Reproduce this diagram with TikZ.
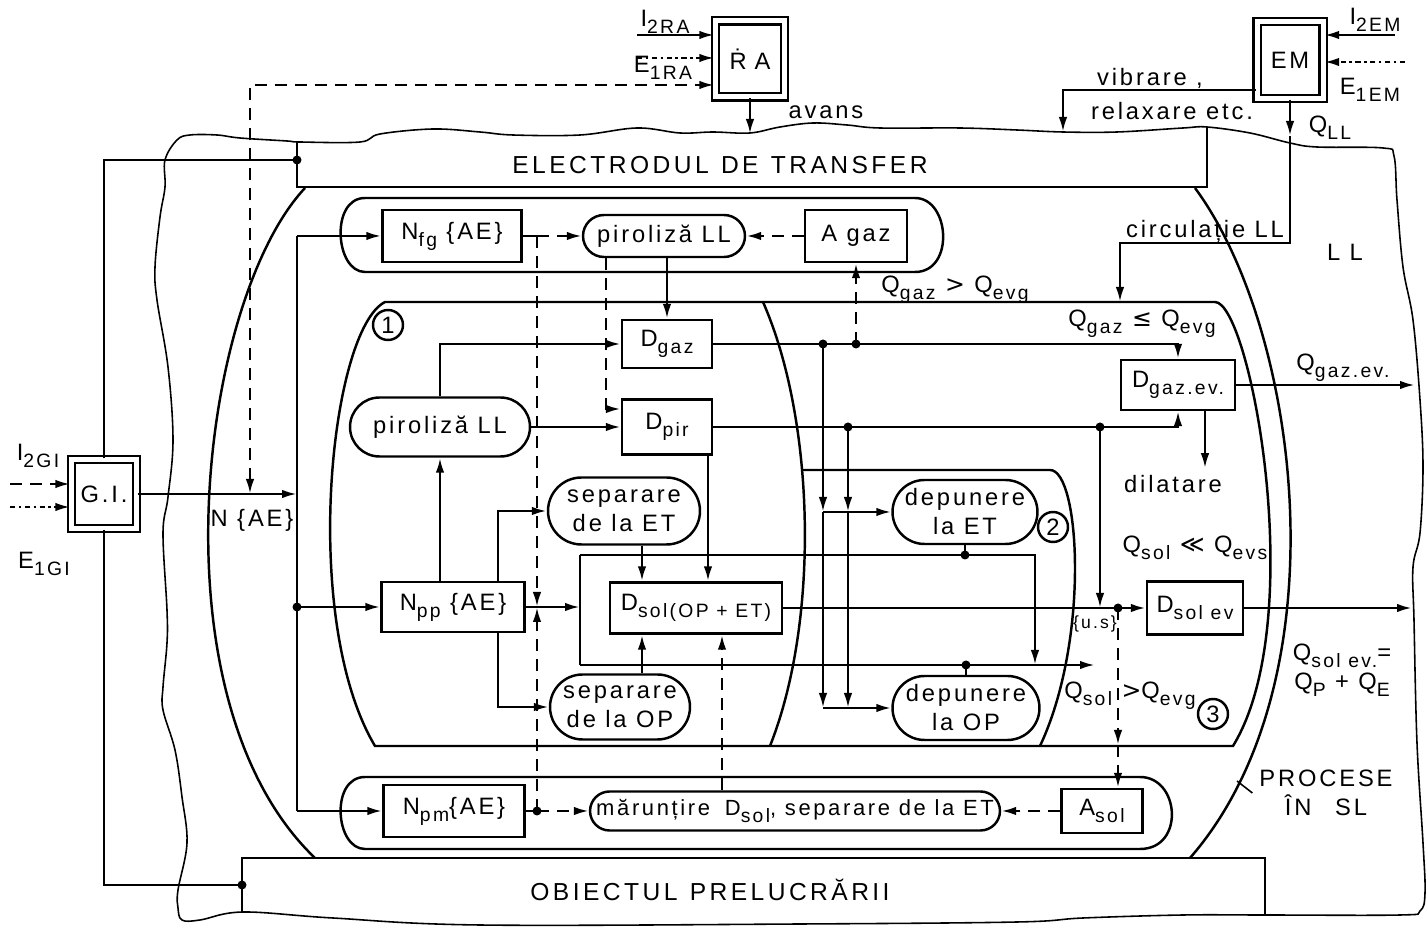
\documentclass[tikz,border=0pt]{standalone}
\usepackage{fontspec}
\setmainfont{Liberation Sans}[LetterSpace=12]
\newfontfamily\widefont[LetterSpace=14]{Liberation Sans}
\newfontfamily\symfont{DejaVu Sans}
\usetikzlibrary{arrows.meta,shapes.misc,calc}
\newcommand{\ix}[1]{\raisebox{-0.55ex}{\fontsize{11}{12}\selectfont #1}}

\begin{document}
\begin{tikzpicture}[x=0.02cm, y=-0.02cm, line width=1.4pt,
  font=\fontsize{13.5}{16.5}\selectfont,
  box/.style={draw, rectangle, inner sep=0pt},
  pill/.style={draw, rounded rectangle, inner sep=0pt, align=center},
  dbox/.style={draw, double, double distance=0.1cm, inner sep=0pt},
  numc/.style={draw, circle, inner sep=0pt, minimum size=0.6cm},
  arr/.style={-{Latex[length=0.3cm,width=0.17cm]}},
  arrs/.style={{Latex[length=0.3cm,width=0.17cm]}-{Latex[length=0.3cm,width=0.17cm]}},
  dsh/.style={dash pattern=on 0.24cm off 0.16cm},
  thinl/.style={line width=0.9pt}]
  \useasboundingbox (0,0) rectangle (1428,928);

  % wavy outline of the working liquid (LL)
  \draw[thinl] plot[smooth cycle, tension=0.6] coordinates {(165,160) (177,140) (190,135)
    (217,135) (240,138) (287,141) (300,142) (360,142) (380,134) (433,129) (480,132)
    (513,135) (580,135) (637,128) (680,133) (713,132) (750,133) (780,127) (813,123)
    (847,125) (880,128) (960,128) (1017,130) (1063,132) (1117,132) (1183,128) (1207,127)
    (1250,133) (1290,143) (1317,147) (1383,148) (1394,156) (1397,200) (1403,267)
    (1413,320) (1420,400) (1423,467) (1420,533) (1413,567) (1414,620) (1417,743)
    (1423,843) (1425,893) (1420,911) (1400,915) (1265,915) (1183,915) (1083,918)
    (1017,922) (800,924) (480,925) (333,918) (243,912) (200,920) (182,920) (178,908)
    (178,890) (187,843) (182,797) (175,750) (163,710) (163,687) (167,643) (167,610)
    (163,533) (168,497) (173,440) (168,367) (157,300) (155,267) (160,217) (165,187)};

  % electrode and workpiece
  \draw (297,142) -- (297,187) -- (1207,187) -- (1207,127);
  \draw (242,912) -- (242,858) -- (1265,858) -- (1265,915);
  \node (etl) at (720,165) {\widefont\fontsize{14}{16}\selectfont ELECTRODUL\enspace DE\enspace TRANSFER};
  \node (opl) at (710,890) {\widefont\fontsize{14}{16}\selectfont OBIECTUL\enspace PRELUCRĂRII};

  % SL lens
  \draw (305,188) .. controls (200,300) and (150,700) .. (315,858);
  \draw (1195,188) .. controls (1300,330) and (1345,680) .. (1190,858);

  % gas and solid bands
  \draw (365,198) -- (915,198) .. controls (950,198) and (955,272) .. (915,272)
    -- (365,272) .. controls (335,272) and (330,198) .. (365,198);
  \draw (365,777) -- (1140,777) .. controls (1180,777) and (1185,849) .. (1140,849)
    -- (365,849) .. controls (335,849) and (330,777) .. (365,777);

  % zones 1, 2, 3
  \draw (375,746) .. controls (300,620) and (330,330) .. (385,302) -- (1215,302)
    .. controls (1250,302) and (1310,620) .. (1233,746) -- cycle;
  \draw (763,302) .. controls (815,420) and (820,620) .. (770,746);
  \draw (803,470) -- (1050,470) .. controls (1080,470) and (1090,640) .. (1040,746);
  \node[numc] (c1) at (388,325) {1};
  \node[numc] (c2) at (1053,527) {2};
  \node[numc] (c3) at (1213,714) {3};

  % sources
  \node[dbox, minimum width=1.38cm, minimum height=1.52cm] (ra) at (750,59) {\.{R}\,\,A};
  \node[dbox, minimum width=1.32cm, minimum height=1.54cm] (em) at (1290,60) {EM};
  \node[dbox, minimum width=1.3cm, minimum height=1.38cm] (gi) at (104,494) {G.I.};

  % blocks
  \node[box, minimum width=2.78cm, minimum height=1.04cm] (nfg) at (452,236) {N\ix{fg} \{AE\}};
  \node[pill, minimum width=3.24cm, minimum height=0.84cm] (pirtop) at (664,236) {piroliză LL};
  \node[box, minimum width=2.04cm, minimum height=1.04cm] (agaz) at (856,236) {A gaz};
  \node[box, minimum width=1.8cm, minimum height=0.96cm] (dgaz) at (667,344) {D\ix{gaz}};
  \node[box, minimum width=1.8cm, minimum height=1.1cm] (dpir) at (667,427) {D\ix{pir}};
  \node[pill, minimum width=3.6cm, minimum height=1.18cm] (pirl) at (440,427) {piroliză LL};
  \node[pill, minimum width=3.04cm, minimum height=1.34cm] (sepet) at (624,511) {separare\\de la ET};
  \node[pill, minimum width=2.8cm, minimum height=1.3cm] (sepop) at (620,707) {separare\\de la OP};
  \node[box, minimum width=2.86cm, minimum height=1.0cm] (npp) at (453,607) {N\ix{pp} \{AE\}};
  \node[box, minimum width=3.44cm, minimum height=1.02cm] (dsol) at (696,608) {D\ix{sol(OP + ET)}};
  \node[pill, minimum width=2.9cm, minimum height=1.28cm] (depet) at (965,512) {depunere\\la ET};
  \node[pill, minimum width=2.94cm, minimum height=1.28cm] (depop) at (966,708) {depunere\\la OP};
  \node[box, minimum width=2.28cm, minimum height=1.0cm] (dgazev) at (1178,385) {D\ix{gaz.ev.}};
  \node[box, minimum width=1.92cm, minimum height=1.06cm] (dsolev) at (1195,608) {D\ix{sol ev}};
  \node[box, minimum width=2.82cm, minimum height=1.04cm] (npm) at (454,811) {N\ix{pm}\{AE\}};
  \node[pill, minimum width=8.2cm, minimum height=0.78cm, font=\fontsize{12.5}{14}\selectfont] (marunt) at (795,811) {mărunțire\; D\ix{sol}, separare de la ET};
  \node[box, minimum width=1.62cm, minimum height=0.88cm] (asol) at (1102,811) {A\ix{sol}};

  % labels
  \node (avans) at (826,112) {avans};
  \node (vibr) at (1150,78) {vibrare ,};
  \node (relax) at (1172,111) {relaxare etc.};
  \node (qll) at (1330,128) {Q\ix{LL}};
  \node (circ) at (1205,231) {circulație LL};
  \node (ll) at (1345,252) {L L};
  \node (qg1) at (955,290) {Q\ix{gaz} {\symfont >} Q\ix{evg}};
  \node (qg2) at (1142,324) {Q\ix{gaz} {\symfont ≤} Q\ix{evg}};
  \node (qgev) at (1343,368) {Q\ix{gaz.ev.}};
  \node (dil) at (1173,484) {dilatare};
  \node (qs1) at (1195,548) {Q\ix{sol} {\symfont ≪} Q\ix{evs}};
  \node (us) at (1095,624) {\fontsize{10}{11}\selectfont\{u.s\}};
  \node (qs2) at (1130,696) {Q\ix{sol} {\symfont >}Q\ix{evg}};
  \node[align=center] (qsev) at (1342,670) {Q\ix{sol ev.}=\\Q\ix{P} + Q\ix{E}};
  \node[align=center] (proc) at (1326,793) {PROCESE\\ÎN\quad SL};
  \node (i2ra) at (665,22) {I\ix{2RA}};
  \node (e1ra) at (663,68) {E\ix{1RA}};
  \node (i2em) at (1375,20) {I\ix{2EM}};
  \node (e1em) at (1370,90) {E\ix{1EM}};
  \node (i2gi) at (38,456) {I\ix{2GI}};
  \node (e1gi) at (44,564) {E\ix{1GI}};
  \node (nae) at (252,520) {N \{AE\}};

  % free ends
  \coordinate (rain1) at (637,35);
  \coordinate (rain2) at (637,58);
  \coordinate (emin1) at (1395,35);
  \coordinate (emin2) at (1405,62);
  \coordinate (giin1) at (10,484);
  \coordinate (giin2) at (10,507);
  \coordinate (vibend) at (1063,132);
  \coordinate (qllend) at (1290,136);
  \coordinate (circend) at (1120,302);
  \coordinate (gazout) at (1415,385);
  \coordinate (solout) at (1412,608);
  \coordinate (lensmark) at (1237,781);
  \coordinate (etj) at (297,160);
  \coordinate (opj) at (242,885);
  \coordinate (nfgj) at (537,236);
  \coordinate (nppj) at (537,607);
  \coordinate (npmj) at (537,811);
  \coordinate (lpt) at (580,555);
  \coordinate (lpb) at (580,665);
  \coordinate (lprt) at (1035,555);
  \coordinate (lpout) at (1095,665);

  % inputs of the sources
  \draw[arr] (rain1) -- (ra.west |- rain1);
  \draw[arr, dash dot] (rain2) -- (ra.west |- rain2);
  \draw[arr] (emin1) -- (em.east |- emin1);
  \draw[arr, dash dot] (emin2) -- (em.east |- emin2);
  \draw[arr, dsh] (giin1) -- (gi.west |- giin1);
  \draw[arr, dash dot] (giin2) -- (gi.west |- giin2);

  % outputs of RA and EM
  \draw[arr] (ra.south) -- (ra.south |- 0,134);
  \draw[arr] (em.west |- 0,90) -| (vibend);
  \draw[arr] (em.south) -- (qllend);
  \draw[arr] (qllend) -- (1290,243) -| (circend);

  % generator feed
  \draw (gi.north) |- (etj);
  \draw (gi.south) |- (opj);
  \draw[arr] (gi.east) -- (gi.east -| 297,0);
  \draw[dsh, arrs] (gi.east -| 250,0) |- (ra.west |- 0,85);
  \draw (297,236) -- (297,811);
  \draw[arr] (297,236) -- (nfg.west);
  \draw[arr] (297,607) -- (npp.west);
  \draw[arr] (297,811) -- (npm.west);

  % gas band
  \draw (nfg.east) -- (nfgj);
  \draw[dsh, arr] (nfgj) -- (pirtop.west);
  \draw[dsh, arr] (nfgj) -- (nppj);
  \draw[dsh, arr] (agaz.west) -- (pirtop.east);
  \draw[dsh, arr] (agaz.south |- dgaz.east) -- (agaz.south);
  \draw[dsh, arr] (pirtop.south -| 606,0) |- ($(dpir.west)+(0,-18)$);
  \draw[arr] (pirtop.south -| dgaz.north) -- (dgaz.north);

  % zone 1
  \draw[arr] (pirl.north) |- (dgaz.west);
  \draw[arr] (pirl.east) -- (dpir.west);
  \draw[arr] (pirl.south |- npp.north) -- (pirl.south);
  \draw[arr] (npp.north -| 498,0) |- (sepet.west);
  \draw[arr] (npp.south -| 498,0) |- (sepop.west);
  \draw (lpt) -- (lpb);
  \draw[arr] (npp.east) -- (npp.east -| lpt);
  \draw[arr] (sepet.south -| 642,0) -- (dsol.north -| 642,0);
  \draw[arr] (dpir.south -| 708,0) -- (dsol.north -| 708,0);
  \draw[arr] (sepop.north -| 642,0) -- (dsol.south -| 642,0);
  \draw[dsh, arr] (marunt.north -| 722,0) -- (dsol.south -| 722,0);

  % zone 2
  \draw[arr] (lpt) -- (lprt) -- (lprt |- lpb);
  \draw[arr] (lpb) -- (lpout);
  \draw (depet.south) -- (depet.south |- lpt);
  \draw (depop.north) -- (depop.north |- lpb);
  \foreach \xx/\yy in {823/344, 848/427}{
    \draw[arr] (\xx,\yy) -- (\xx,512);
    \draw[arr] (\xx,512) -- (\xx,708);
  }
  \draw[arr] (823,512) -- (depet.west);
  \draw[arr] (823,708) -- (depop.west);

  % zone 3
  \draw[arr] (dgaz.east) -| (dgazev.north);
  \draw[arr] (dpir.east) -| (dgazev.south);
  \draw[arr] (1100,427) -- (1100,608);
  \draw[arr] (dsol.east) -- (dsolev.west);
  \draw[arr] (dgazev.east) -- (gazout);
  \draw[arr] (dgazev.south -| 1205,0) -- (dil.north -| 1205,0);
  \draw[arr] (dsolev.east) -- (solout);
  \draw[dsh, arr] (1118,608) -- (1118,745);
  \draw[dsh, arr] (1118,745) -- (asol.north -| 1118,0);

  % solid band
  \draw (npm.east) -- (npmj);
  \draw[dsh, arr] (npmj) -- (marunt.west);
  \draw[dsh, arr] (npmj) -- (nppj);
  \draw[dsh, arr] (asol.west) -- (marunt.east);

  % leader
  \draw[thinl] (proc.west) -- (lensmark);

  % junction dots
  \foreach \xx/\yy in {297/160, 242/885, 297/607, 537/811, 823/344, 856/344, 848/427,
    1100/427, 1118/608, 965/555, 966/665}
    \fill (\xx,\yy) circle (0.09cm);
\end{tikzpicture}
\end{document}
